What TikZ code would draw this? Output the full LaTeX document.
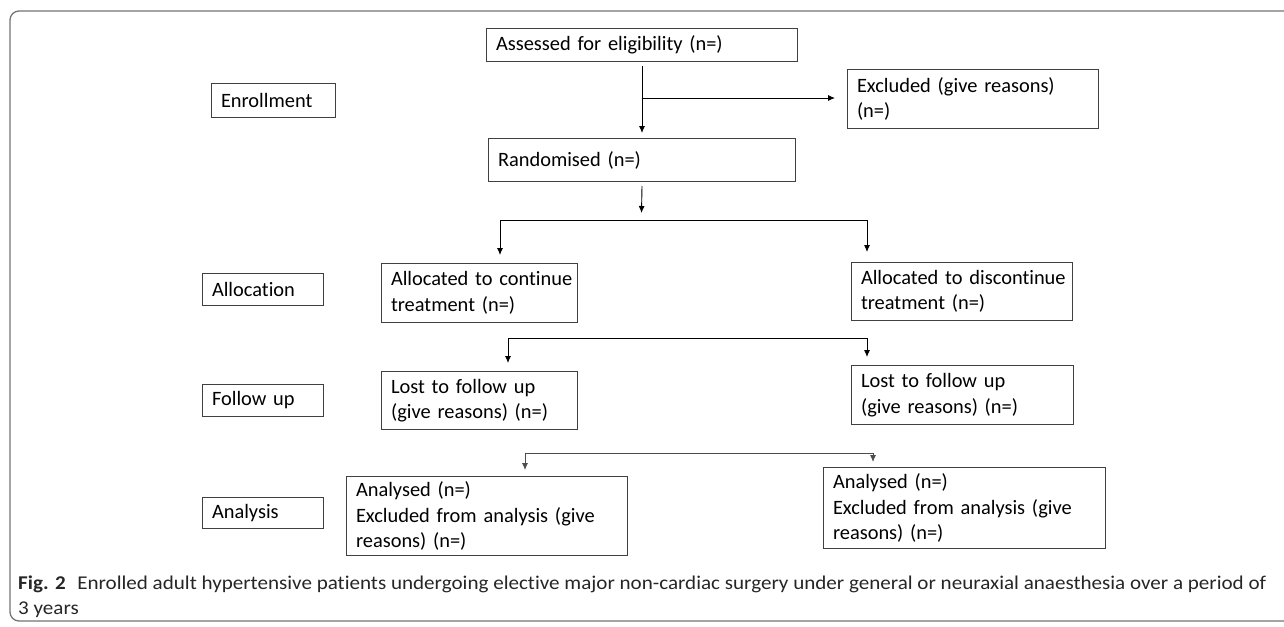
\documentclass[tikz,border=0pt]{standalone}
\usepackage{fontspec}
\setmainfont{Carlito}[Ligatures=NoCommon]
\usetikzlibrary{arrows.meta}
\newlength\capw
\newcommand\captext{\textbf{Fig. 2}\hspace{0.55em}Enrolled adult hypertensive patients undergoing elective major non-cardiac surgery under general or neuraxial anaesthesia over a period of}
\newcommand\capfont{\fontsize{19.5}{24}\selectfont}
\begin{document}
\settowidth\capw{\capfont\captext}
\pgfmathsetmacro\capsx{1248/\capw}
\begin{tikzpicture}[x=1pt,y=-1pt,
  box/.style={draw=black!75, line width=1pt, anchor=north west, inner xsep=9.5pt, inner ysep=0pt,
              align=left, font=\fontsize{20.4}{25.5}\selectfont},
  arr/.style={-{Latex[length=7pt,width=6pt]}, line width=0.9pt, draw=black},
  darr/.style={{Latex[length=7pt,width=6pt]}-{Latex[length=7pt,width=6pt]}, line width=0.9pt, draw=black},
  frame/.style={draw=black!55, line width=1.3pt, rounded corners=9pt}]
\useasboundingbox (0,0) rectangle (1284,626);
\draw[frame] (10,11) rectangle (1294,621);

% label boxes
\node[box, text width=105pt, minimum height=34pt] (enroll) at (211,83) {\mbox{Enrollment}};
\node[box, text width=102pt, minimum height=32pt] (alloc) at (202,273) {\mbox{Allocation}};
\node[box, text width=102pt, minimum height=32pt] (fup) at (202,384) {\mbox{Follow up}};
\node[box, text width=102pt, minimum height=31pt] (anl) at (202,497) {\mbox{Analysis}};

% flow boxes
\node[box, text width=292pt, minimum height=33pt] (assess) at (486,28) {\mbox{Assessed for eligibility (n=)}};
\node[box, text width=232pt, minimum height=59pt] (excl) at (847,69) {\mbox{Excluded (give reasons)}\\\mbox{(n=)}};
\node[box, text width=288pt, minimum height=43pt] (rand) at (488,138) {\mbox{Randomised (n=)}};
\node[box, text width=177pt, minimum height=59pt] (cont) at (381,263) {\mbox{Allocated to continue}\\\mbox{treatment (n=)}};
\node[box, text width=202pt, minimum height=58pt] (disc) at (851,262) {\mbox{Allocated to discontinue}\\\mbox{treatment (n=)}};
\node[box, text width=177pt, minimum height=58pt] (lostl) at (381,371) {\mbox{Lost to follow up}\\\mbox{(give reasons) (n=)}};
\node[box, text width=203pt, minimum height=59pt] (lostr) at (851,365) {\mbox{Lost to follow up}\\\mbox{(give reasons) (n=)}};
\node[box, text width=262pt, minimum height=79pt] (andl) at (346,476) {\mbox{Analysed (n=)}\\\mbox{Excluded from analysis (give}\\\mbox{reasons) (n=)}};
\node[box, text width=263pt, minimum height=81pt] (andr) at (823,467) {\mbox{Analysed (n=)}\\\mbox{Excluded from analysis (give}\\\mbox{reasons) (n=)}};

% connectors
\draw[arr] ([yshift=-4pt]assess.south) -- ([yshift=5pt]rand.north);
\coordinate (bx) at (641.5,98);
\draw[arr] (bx) -- ([xshift=-12pt]bx -| excl.west);

\coordinate (s1) at (641.5,213);
\draw[arr] ([yshift=-4pt]rand.south) -- (s1);

\coordinate (h1l) at (500,220);
\coordinate (h1r) at (867,220);
\draw[darr] ([yshift=8pt]h1l |- cont.north) -- (h1l) -- (h1r) -- ([yshift=10pt]h1r |- disc.north);

\coordinate (h2l) at (508,338);
\coordinate (h2r) at (867,338);
\draw[darr] ([yshift=8pt]h2l |- lostl.north) -- (h2l) -- (h2r) -- ([yshift=8pt]h2r |- lostr.north);

\coordinate (h3l) at (525,453);
\coordinate (h3r) at (873,453);
\draw[darr, draw=black!70] ([yshift=6pt]h3l |- andl.north) -- (h3l) -- (h3r) -- ([yshift=5pt]h3r |- andr.north);

% caption
\node[anchor=base west, inner sep=0pt, text=black!85] (cap1) at (18,589) {\scalebox{\capsx}[1]{\capfont\captext}};
\node[anchor=base west, inner sep=0pt, text=black!85] (cap2) at (18,614) {\scalebox{\capsx}[1]{\capfont 3 years}};
\end{tikzpicture}
\end{document}
